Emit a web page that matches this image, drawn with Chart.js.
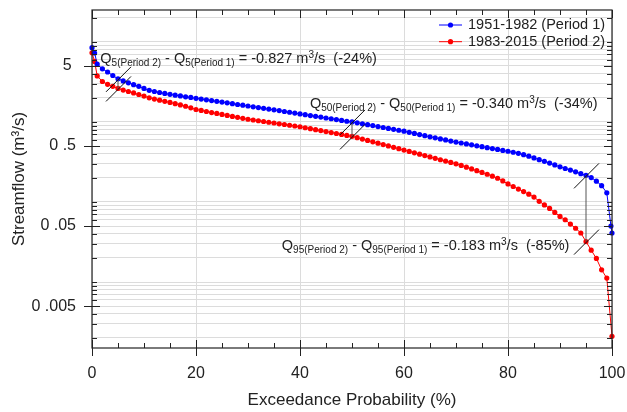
<!DOCTYPE html>
<html>
<head>
<meta charset="utf-8">
<script src="https://cdn.jsdelivr.net/npm/chart.js"></script>
<style>
  body { margin: 0; background: #fff; }
</style>
</head>
<body>
<canvas id="grafico" width="627" height="412"></canvas>
<script>
    // Probabilidade de excedência (%) e vazão (m3/s) - período 1 (1951-1982)
    const probP1 = [
        0, 0.5, 1,
        2, 3, 4, 5, 6, 7, 8, 9, 10,
        11, 12, 13, 14, 15, 16, 17, 18, 19, 20,
        21, 22, 23, 24, 25, 26, 27, 28, 29, 30,
        31, 32, 33, 34, 35, 36, 37, 38, 39, 40,
        41, 42, 43, 44, 45, 46, 47, 48, 49, 50,
        51, 52, 53, 54, 55, 56, 57, 58, 59, 60,
        61, 62, 63, 64, 65, 66, 67, 68, 69, 70,
        71, 72, 73, 74, 75, 76, 77, 78, 79, 80,
        81, 82, 83, 84, 85, 86, 87, 88, 89, 90,
        91, 92, 93, 94, 95, 96, 97, 98, 99,
        99.8, 100
    ];
    const vazaoP1 = [
        8.45, 7.26, 5.29,
        4.6, 4.2, 3.8, 3.45, 3.25, 3.08, 2.92, 2.78, 2.62,
        2.48, 2.40, 2.33, 2.27, 2.21, 2.16, 2.11, 2.06, 2.02, 1.97,
        1.93, 1.89, 1.85, 1.81, 1.77, 1.73, 1.69, 1.65, 1.62, 1.58,
        1.545, 1.51, 1.48, 1.445, 1.415, 1.385, 1.35, 1.32, 1.29, 1.26,
        1.23, 1.20, 1.175, 1.15, 1.12, 1.095, 1.07, 1.045, 1.02, 1.0,
        0.974, 0.948, 0.923, 0.899, 0.875, 0.852, 0.83, 0.808, 0.787, 0.766,
        0.742, 0.718, 0.695, 0.673, 0.652, 0.632, 0.613, 0.595, 0.577, 0.56,
        0.545, 0.531, 0.517, 0.503, 0.49, 0.477, 0.465, 0.453, 0.441, 0.43,
        0.418, 0.405, 0.39, 0.373, 0.355, 0.338, 0.322, 0.306, 0.29, 0.275,
        0.262, 0.25, 0.238, 0.226, 0.215, 0.202, 0.182, 0.16, 0.13,
        0.05, 0.041
    ];

    // período 2 (1983-2015)
    const probP2 = [
        0, 0.5, 1,
        2, 3, 4, 5, 6, 7, 8, 9, 10,
        11, 12, 13, 14, 15, 16, 17, 18, 19, 20,
        21, 22, 23, 24, 25, 26, 27, 28, 29, 30,
        31, 32, 33, 34, 35, 36, 37, 38, 39, 40,
        41, 42, 43, 44, 45, 46, 47, 48, 49, 50,
        51, 52, 53, 54, 55, 56, 57, 58, 59, 60,
        61, 62, 63, 64, 65, 66, 67, 68, 69, 70,
        71, 72, 73, 74, 75, 76, 77, 78, 79, 80,
        81, 82, 83, 84, 85, 86, 87, 88, 89, 90,
        91, 92, 93, 94, 95, 96, 97, 98, 99, 100
    ];
    const vazaoP2 = [
        7.3, 5.7, 3.75,
        3.2, 2.95, 2.78, 2.62, 2.5, 2.4, 2.3, 2.2, 2.1,
        2.0, 1.93, 1.87, 1.81, 1.75, 1.69, 1.63, 1.57, 1.5, 1.43,
        1.39, 1.35, 1.31, 1.275, 1.24, 1.205, 1.17, 1.14, 1.11, 1.08,
        1.057, 1.034, 1.012, 0.99, 0.969, 0.948, 0.928, 0.908, 0.889, 0.87,
        0.846, 0.823, 0.801, 0.779, 0.758, 0.737, 0.717, 0.697, 0.678, 0.66,
        0.635, 0.61, 0.587, 0.564, 0.542, 0.521, 0.501, 0.482, 0.463, 0.445,
        0.428, 0.411, 0.395, 0.38, 0.365, 0.351, 0.337, 0.324, 0.312, 0.3,
        0.286, 0.272, 0.259, 0.246, 0.234, 0.222, 0.21, 0.198, 0.183, 0.168,
        0.156, 0.145, 0.135, 0.125, 0.115, 0.102, 0.092, 0.083, 0.074, 0.066,
        0.06, 0.053, 0.047, 0.041, 0.032, 0.025, 0.0197, 0.0142, 0.0112, 0.0021
    ];

    const legendas = ['1951-1982 (Period 1)', '1983-2015 (Period 2)'];

    // marcas do eixo y (log) e os rótulos que aparecem
    const ticksY = [
        0.002, 0.003, 0.004, 0.005, 0.006, 0.007, 0.008, 0.009,
        0.01, 0.02, 0.03, 0.04, 0.05, 0.06, 0.07, 0.08, 0.09,
        0.1, 0.2, 0.3, 0.4, 0.5, 0.6, 0.7, 0.8, 0.9,
        1, 2, 3, 4, 5, 6, 7, 8, 9,
        10, 20
    ];
    const valoresRotuloY = [0.005, 0.05, 0.5, 5];
    const textosRotuloY = ['0 .005', '0 .05', '0 .5', '5 '];

    // anotações Q5, Q50, Q95
    const quantis = [5, 50, 95];
    const diferencas = ['-0.827', '-0.340', '-0.183'];
    const percentuais = ['-24%', '-34%', '-85%'];

    const fonte = '"Liberation Sans", Arial, sans-serif';

    function rotuloY(v) {
        for (let i = 0; i < valoresRotuloY.length; i++) {
            if (Math.abs(v - valoresRotuloY[i]) / valoresRotuloY[i] < 1e-6) return textosRotuloY[i];
        }
        return '';
    }

    function textoRico(ctx, partes, x, y) {
        partes.forEach(function (p) {
            const pequeno = p[1] === 'sub' || p[1] === 'sup';
            ctx.font = (pequeno ? '10px ' : '14.5px ') + fonte;
            const dy = p[1] === 'sub' ? 3 : (p[1] === 'sup' ? -5 : 0);
            ctx.fillText(p[0], x, y + dy);
            x += ctx.measureText(p[0]).width;
        });
    }

    function valorEm(prob, vazao, q) {
        const i = prob.indexOf(q);
        return vazao[i];
    }

    // desenha moldura, marcas, anotações e legenda
    const decoracao = {
        id: 'decoracao',
        afterDatasetsDraw(chart) {
            const ctx = chart.ctx;
            const a = chart.chartArea;
            const x = chart.scales.x;
            const y = chart.scales.y;
            ctx.save();

            // moldura
            ctx.strokeStyle = '#222';
            ctx.lineWidth = 1.2;
            ctx.strokeRect(a.left, a.top, a.right - a.left, a.bottom - a.top);

            ctx.lineWidth = 1;
            ctx.beginPath();
            // marcas y
            y.ticks.forEach(function (t) {
                const py = Math.round(y.getPixelForValue(t.value)) + 0.5;
                if (rotuloY(t.value) !== '') {
                    ctx.moveTo(a.left - 8, py); ctx.lineTo(a.left + 8, py);
                    ctx.moveTo(a.right - 8, py); ctx.lineTo(a.right, py);
                } else {
                    ctx.moveTo(a.left, py); ctx.lineTo(a.left + 5, py);
                    ctx.moveTo(a.right - 5, py); ctx.lineTo(a.right, py);
                }
            });
            // marcas x
            for (let v = 0; v <= 100; v += 5) {
                const px = Math.round(x.getPixelForValue(v)) + 0.5;
                if (v % 20 === 0) {
                    ctx.moveTo(px, a.bottom - 8); ctx.lineTo(px, a.bottom + 8);
                    ctx.moveTo(px, a.top); ctx.lineTo(px, a.top + 8);
                } else {
                    ctx.moveTo(px, a.bottom - 5); ctx.lineTo(px, a.bottom);
                    ctx.moveTo(px, a.top); ctx.lineTo(px, a.top + 5);
                }
            }
            ctx.stroke();

            // traços nos quantis
            quantis.forEach(function (q) {
                const px = x.getPixelForValue(q);
                const p1 = y.getPixelForValue(valorEm(probP1, vazaoP1, q));
                const p2 = y.getPixelForValue(valorEm(probP2, vazaoP2, q));
                ctx.strokeStyle = '#555';
                ctx.beginPath();
                ctx.moveTo(px, p1); ctx.lineTo(px, p2);
                ctx.stroke();
                ctx.strokeStyle = '#111';
                ctx.beginPath();
                [p1, p2].forEach(function (py) {
                    ctx.moveTo(px - 12, py + 13);
                    ctx.lineTo(px + 13, py - 12);
                });
                ctx.stroke();
            });

            // textos
            const posTexto = [[1.6, 5.49], [41.9, 1.48], [36.5, 0.025]];
            ctx.fillStyle = '#222';
            ctx.textBaseline = 'alphabetic';
            ctx.textAlign = 'left';
            quantis.forEach(function (q, i) {
                const tx = x.getPixelForValue(posTexto[i][0]);
                const ty = y.getPixelForValue(posTexto[i][1]);
                textoRico(ctx, [
                    ['Q', ''], [q + '(Period 2)', 'sub'], [' - Q', ''], [q + '(Period 1)', 'sub'],
                    [' = ' + diferencas[i] + ' m', ''], ['3', 'sup'], ['/s  (' + percentuais[i] + ')', '']
                ], tx, ty);
            });

            // legenda
            ctx.textBaseline = 'middle';
            ctx.font = '14.5px ' + fonte;
            chart.data.datasets.forEach(function (ds, i) {
                const ly = a.top + 15 + i * 16.7;
                ctx.strokeStyle = ds.borderColor;
                ctx.beginPath();
                ctx.moveTo(a.right - 173, ly); ctx.lineTo(a.right - 150, ly);
                ctx.stroke();
                ctx.fillStyle = ds.borderColor;
                ctx.beginPath();
                ctx.arc(a.right - 161.5, ly, 2.6, 0, Math.PI * 2);
                ctx.fill();
                ctx.fillStyle = '#222';
                ctx.fillText(ds.label, a.right - 144, ly);
            });

            ctx.restore();
        }
    };

    function montarSerie(prob, vazao) {
        return prob.map(function (p, i) { return { x: p, y: vazao[i] }; });
    }

    const config = {
        type: 'line',
        data: {
            datasets: [{
                label: legendas[0],
                data: montarSerie(probP1, vazaoP1),
                borderColor: '#0000ff',
                backgroundColor: '#0000ff',
                pointBackgroundColor: '#0000ff',
                borderWidth: 1,
                pointRadius: 2.6,
                pointBorderWidth: 0,
                tension: 0,
                clip: false
            }, {
                label: legendas[1],
                data: montarSerie(probP2, vazaoP2),
                borderColor: '#ff0000',
                backgroundColor: '#ff0000',
                pointBackgroundColor: '#ff0000',
                borderWidth: 1,
                pointRadius: 2.6,
                pointBorderWidth: 0,
                tension: 0,
                clip: false
            }]
        },
        options: {
            responsive: false,
            animation: false,
            events: [],
            layout: { padding: { top: 10, right: 15, left: 0, bottom: 0 } },
            plugins: {
                legend: { display: false },
                tooltip: { enabled: false }
            },
            scales: {
                x: {
                    type: 'linear',
                    min: 0,
                    max: 100,
                    // tamanho fixo, sem folga extra para os rótulos das pontas
                    afterFit: function (s) {
                        s.height = 64;
                        s.paddingLeft = 0; s.paddingRight = 0;
                    },
                    border: { display: false },
                    grid: { color: '#dcdcdc', drawTicks: false },
                    ticks: {
                        stepSize: 20,
                        autoSkip: false,
                        maxRotation: 0,
                        padding: 16,
                        color: '#222',
                        font: { family: fonte, size: 16 }
                    },
                    title: {
                        display: true,
                        text: 'Exceedance Probability (%)',
                        color: '#222',
                        font: { family: fonte, size: 17 },
                        padding: { top: 0, bottom: 1 }
                    }
                },
                y: {
                    type: 'logarithmic',
                    min: 0.0015,
                    max: 25,
                    afterFit: function (s) {
                        s.width = 92;
                        s.paddingTop = 0; s.paddingBottom = 0;
                    },
                    afterBuildTicks: function (s) {
                        s.ticks = ticksY.map(function (v) { return { value: v }; });
                    },
                    border: { display: false },
                    grid: { color: '#dcdcdc', drawTicks: false },
                    ticks: {
                        autoSkip: false,
                        padding: 16,
                        color: '#222',
                        font: { family: fonte, size: 16 },
                        callback: function (v) { return rotuloY(v); }
                    },
                    title: {
                        display: true,
                        text: 'Streamflow (m³/s)',
                        color: '#222',
                        font: { family: fonte, size: 17 },
                        padding: { top: 9, bottom: 0 }
                    }
                }
            }
        },
        plugins: [decoracao]
    };

    let meuGrafico = new Chart(document.getElementById('grafico'), config);
</script>
